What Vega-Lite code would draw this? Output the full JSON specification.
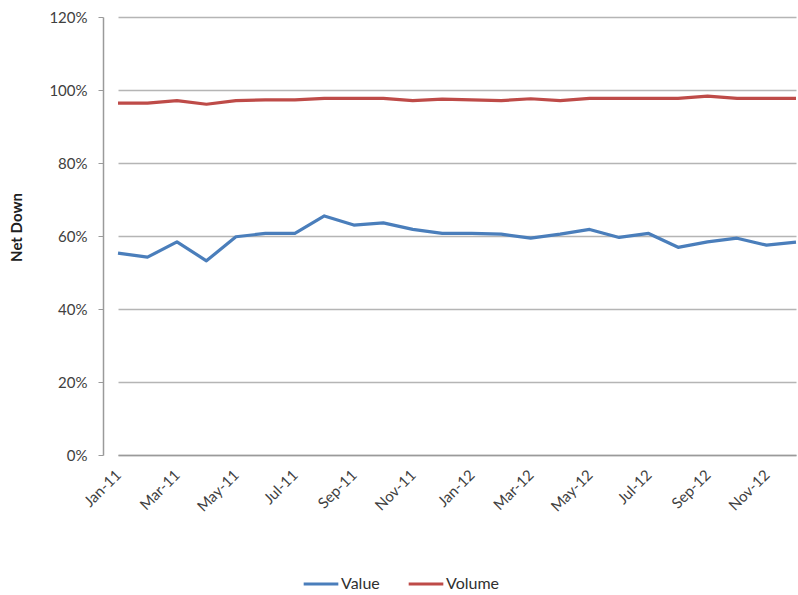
{
  "$schema": "https://vega.github.io/schema/vega-lite/v6.json",
  "width": 695,
  "height": 438,
  "autosize": {"type": "none"},
  "padding": {"left": 103, "top": 17, "right": 0, "bottom": 140},
  "background": "white",
  "config": {
    "view": {"stroke": null},
    "font": "Lato",
    "axis": {"labelFont": "Lato", "titleFont": "Lato", "labelColor": "#404040", "titleColor": "#202020"}
  },
  "data": {
    "values": [
      {"month": "Jan-11", "series": "Value", "v": 0.553},
      {"month": "Feb-11", "series": "Value", "v": 0.542},
      {"month": "Mar-11", "series": "Value", "v": 0.584},
      {"month": "Apr-11", "series": "Value", "v": 0.532},
      {"month": "May-11", "series": "Value", "v": 0.598},
      {"month": "Jun-11", "series": "Value", "v": 0.607},
      {"month": "Jul-11", "series": "Value", "v": 0.607},
      {"month": "Aug-11", "series": "Value", "v": 0.655},
      {"month": "Sep-11", "series": "Value", "v": 0.630},
      {"month": "Oct-11", "series": "Value", "v": 0.636},
      {"month": "Nov-11", "series": "Value", "v": 0.618},
      {"month": "Dec-11", "series": "Value", "v": 0.607},
      {"month": "Jan-12", "series": "Value", "v": 0.607},
      {"month": "Feb-12", "series": "Value", "v": 0.605},
      {"month": "Mar-12", "series": "Value", "v": 0.594},
      {"month": "Apr-12", "series": "Value", "v": 0.605},
      {"month": "May-12", "series": "Value", "v": 0.618},
      {"month": "Jun-12", "series": "Value", "v": 0.596},
      {"month": "Jul-12", "series": "Value", "v": 0.607},
      {"month": "Aug-12", "series": "Value", "v": 0.569},
      {"month": "Sep-12", "series": "Value", "v": 0.584},
      {"month": "Oct-12", "series": "Value", "v": 0.594},
      {"month": "Nov-12", "series": "Value", "v": 0.575},
      {"month": "Dec-12", "series": "Value", "v": 0.583},
      {"month": "Jan-11", "series": "Volume", "v": 0.964},
      {"month": "Feb-11", "series": "Volume", "v": 0.964},
      {"month": "Mar-11", "series": "Volume", "v": 0.971},
      {"month": "Apr-11", "series": "Volume", "v": 0.961},
      {"month": "May-11", "series": "Volume", "v": 0.971},
      {"month": "Jun-11", "series": "Volume", "v": 0.973},
      {"month": "Jul-11", "series": "Volume", "v": 0.973},
      {"month": "Aug-11", "series": "Volume", "v": 0.977},
      {"month": "Sep-11", "series": "Volume", "v": 0.977},
      {"month": "Oct-11", "series": "Volume", "v": 0.977},
      {"month": "Nov-11", "series": "Volume", "v": 0.971},
      {"month": "Dec-11", "series": "Volume", "v": 0.975},
      {"month": "Jan-12", "series": "Volume", "v": 0.973},
      {"month": "Feb-12", "series": "Volume", "v": 0.971},
      {"month": "Mar-12", "series": "Volume", "v": 0.976},
      {"month": "Apr-12", "series": "Volume", "v": 0.971},
      {"month": "May-12", "series": "Volume", "v": 0.977},
      {"month": "Jun-12", "series": "Volume", "v": 0.977},
      {"month": "Jul-12", "series": "Volume", "v": 0.977},
      {"month": "Aug-12", "series": "Volume", "v": 0.977},
      {"month": "Sep-12", "series": "Volume", "v": 0.983},
      {"month": "Oct-12", "series": "Volume", "v": 0.977},
      {"month": "Nov-12", "series": "Volume", "v": 0.977},
      {"month": "Dec-12", "series": "Volume", "v": 0.977}
    ]
  },
  "mark": {"type": "line", "strokeWidth": 3.2, "strokeJoin": "round"},
  "encoding": {
    "x": {
      "field": "month",
      "type": "ordinal",
      "sort": null,
      "scale": {"type": "point", "range": [15, 693], "padding": 0},
      "axis": {
        "title": null,
        "values": ["Jan-11", "Mar-11", "May-11", "Jul-11", "Sep-11", "Nov-11", "Jan-12", "Mar-12", "May-12", "Jul-12", "Sep-12", "Nov-12"],
        "labelAngle": -45,
        "labelAlign": "right",
        "labelBaseline": "middle",
        "labelFontSize": 15,
        "labelPadding": 17,
        "ticks": false,
        "grid": false,
        "domainColor": "#9a9a9a",
        "domainWidth": 1.5
      }
    },
    "y": {
      "field": "v",
      "type": "quantitative",
      "scale": {"domain": [0, 1.2], "nice": false},
      "axis": {
        "title": "Net Down",
        "titleFontSize": 15,
        "titleFontWeight": "bold",
        "titleX": -79,
        "titleY": 210,
        "format": ".0%",
        "values": [0, 0.2, 0.4, 0.6, 0.8, 1.0, 1.2],
        "labelFontSize": 15,
        "labelPadding": 11,
        "tickSize": 5,
        "tickColor": "#9a9a9a",
        "domainColor": "#9a9a9a",
        "domainWidth": 1.5,
        "gridColor": "#b5b5b5",
        "gridWidth": 1.5
      }
    },
    "color": {
      "field": "series",
      "type": "nominal",
      "scale": {"domain": ["Value", "Volume"], "range": ["#4a7ebb", "#be4b48"]},
      "legend": {
        "title": null,
        "orient": "none",
        "legendX": 199,
        "legendY": 548,
        "direction": "horizontal",
        "symbolType": "stroke",
        "symbolSize": 1200,
        "symbolStrokeWidth": 3,
        "labelFontSize": 16,
        "labelColor": "#303030",
        "labelOffset": 1,
        "columnPadding": 22
      }
    }
  }
}
